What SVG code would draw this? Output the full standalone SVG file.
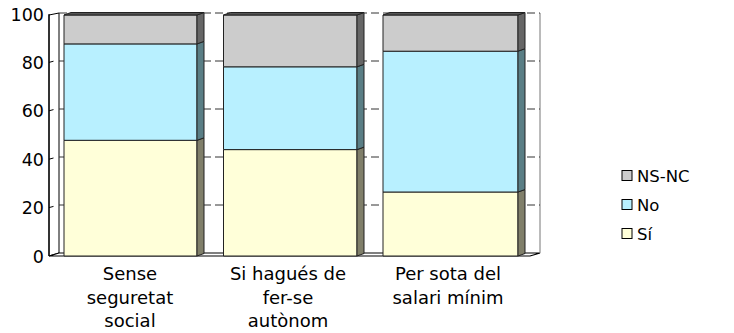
<svg xmlns="http://www.w3.org/2000/svg" width="734" height="333" viewBox="0 0 734 333">
<style>
text{font-family:"DejaVu Sans","Liberation Sans",sans-serif;font-size:18px;fill:#000}
.ax{text-anchor:end;font-size:17.5px}
.cat{text-anchor:middle}
.leg{font-size:16.5px}
.grid{stroke:#333;stroke-width:1;stroke-dasharray:8 4;fill:none}
.edge{stroke:#222;stroke-width:1;stroke-linejoin:round}
.ns{fill:#CCCCCC}.nsS{fill:#666666}
.no{fill:#B8F0FF}.noS{fill:#5A7E85}
.si{fill:#FFFFD9}.siS{fill:#807F6A}
.top{fill:#555555}
</style>
<g id="walls">
<rect x="59" y="13" width="481" height="240" fill="#FFFFFF"/>
<polygon points="49,15 59,13 59,253 49,256" fill="#FFFFFF" stroke="#000" stroke-width="1"/>
<polygon points="49,256 530,256 540,253 59,253" fill="#FFFFFF" stroke="#000" stroke-width="1.2"/>
<line x1="540" y1="13" x2="540" y2="253" stroke="#777" stroke-width="1"/>
<g class="grid">
<line x1="59" y1="13" x2="540" y2="13"/>
<line x1="59" y1="61" x2="540" y2="61"/>
<line x1="59" y1="109" x2="540" y2="109"/>
<line x1="59" y1="157" x2="540" y2="157"/>
<line x1="59" y1="205" x2="540" y2="205"/>
</g>
<g stroke="#000" stroke-width="1">
<line x1="49" y1="62.4" x2="53.5" y2="61.2"/>
<line x1="49" y1="110.8" x2="53.5" y2="109.6"/>
<line x1="49" y1="159.2" x2="53.5" y2="158"/>
<line x1="49" y1="207.6" x2="53.5" y2="206.4"/>
</g>
<line x1="49" y1="14" x2="49" y2="256" stroke="#000" stroke-width="1.2"/>
</g>
<g id="axis-labels">
<text class="ax" x="44" y="20.5">100</text>
<text class="ax" x="44" y="68.9">80</text>
<text class="ax" x="44" y="117.3">60</text>
<text class="ax" x="44" y="165.7">40</text>
<text class="ax" x="44" y="214.1">20</text>
<text class="ax" x="44" y="262.5">0</text>
</g>
<g id="bar-sense">
<rect class="si edge" x="64" y="140.3" width="133" height="115.7"/>
<polygon class="siS edge" points="197,256 204,253.5 204,137.8 197,140.3"/>
<rect class="no edge" x="64" y="43.9" width="133" height="96.4"/>
<polygon class="noS edge" points="197,140.3 204,137.8 204,41.4 197,43.9"/>
<rect class="ns edge" x="64" y="15" width="133" height="28.9"/>
<polygon class="nsS edge" points="197,43.9 204,41.4 204,12.5 197,15"/>
<polygon class="top edge" points="64,15 71,12.5 204,12.5 197,15"/>
</g>
<g id="bar-hagues">
<rect class="si edge" x="223.5" y="149.6" width="133.5" height="106.4"/>
<polygon class="siS edge" points="357,256 364,253.5 364,147.1 357,149.6"/>
<rect class="no edge" x="223.5" y="66.8" width="133.5" height="82.8"/>
<polygon class="noS edge" points="357,149.6 364,147.1 364,64.3 357,66.8"/>
<rect class="ns edge" x="223.5" y="15" width="133.5" height="51.8"/>
<polygon class="nsS edge" points="357,66.8 364,64.3 364,12.5 357,15"/>
<polygon class="top edge" points="223.5,15 230.5,12.5 364,12.5 357,15"/>
</g>
<g id="bar-salari">
<rect class="si edge" x="383" y="192" width="135" height="64"/>
<polygon class="siS edge" points="518,256 525,253.5 525,189.5 518,192"/>
<rect class="no edge" x="383" y="51.2" width="135" height="140.8"/>
<polygon class="noS edge" points="518,192 525,189.5 525,48.7 518,51.2"/>
<rect class="ns edge" x="383" y="15" width="135" height="36.2"/>
<polygon class="nsS edge" points="518,51.2 525,48.7 525,12.5 518,15"/>
<polygon class="top edge" points="383,15 390,12.5 525,12.5 518,15"/>
</g>
<g id="categories">
<text class="cat" x="130" y="280">Sense</text>
<text class="cat" x="130" y="303.5">seguretat</text>
<text class="cat" x="130" y="327">social</text>
<text class="cat" x="288" y="280">Si hagués de</text>
<text class="cat" x="288" y="303.5">fer-se</text>
<text class="cat" x="288" y="327">autònom</text>
<text class="cat" x="448" y="280">Per sota del</text>
<text class="cat" x="448" y="303.5">salari mínim</text>
</g>
<g id="legend">
<rect class="ns" x="622" y="170.5" width="10" height="10" stroke="#000" stroke-width="1"/>
<text class="leg" x="637" y="182">NS-NC</text>
<rect class="no" x="622" y="199.5" width="10" height="10" stroke="#000" stroke-width="1"/>
<text class="leg" x="637" y="211">No</text>
<rect class="si" x="622" y="228.5" width="10" height="10" stroke="#000" stroke-width="1"/>
<text class="leg" x="637" y="240">Sí</text>
</g>
</svg>
